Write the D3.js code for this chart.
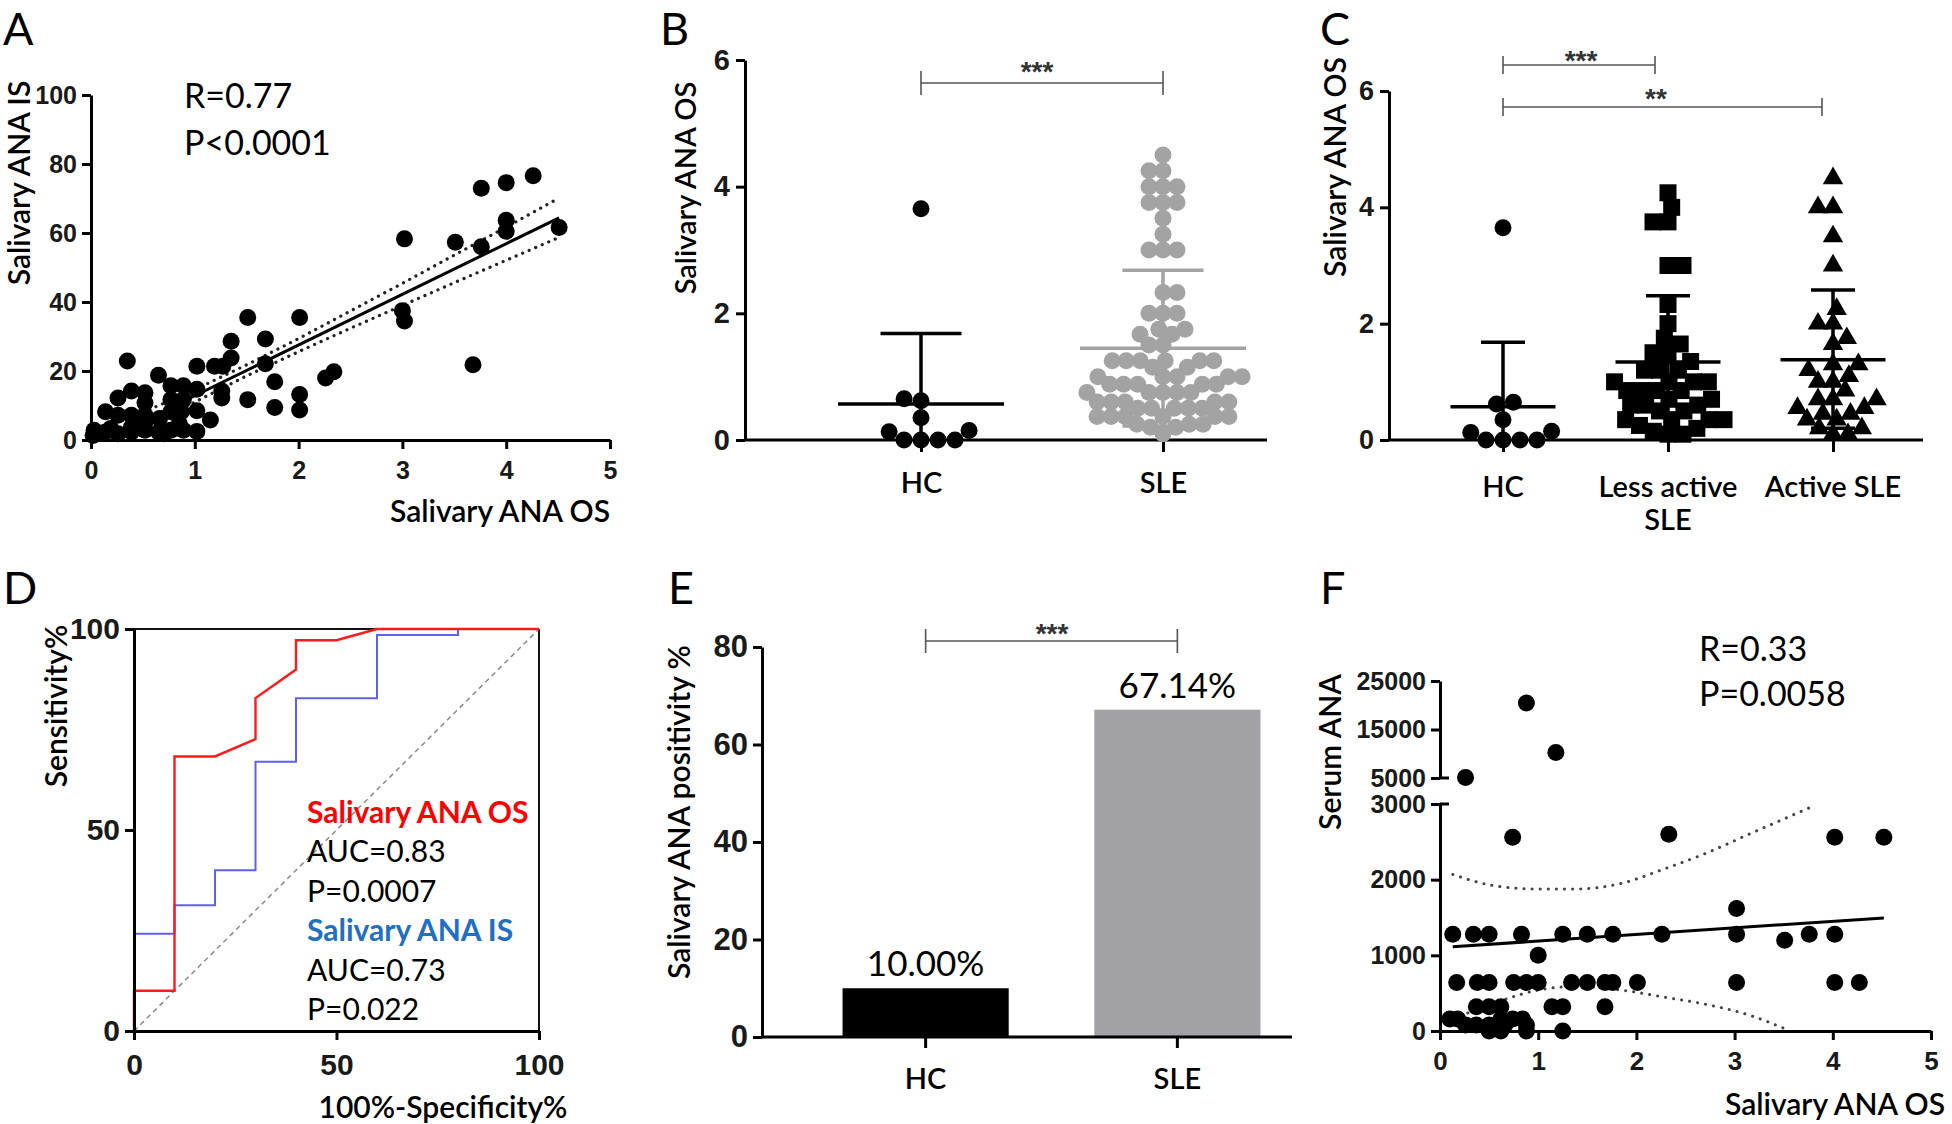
<!DOCTYPE html>
<html><head><meta charset="utf-8">
<script src="https://cdn.jsdelivr.net/npm/d3@7"></script>
<style>body{margin:0;background:#fff}svg{display:block}</style>
</head><body>
<svg id="fig" width="1952" height="1124"></svg>
<script>
// ================= DATA =================
// Panel A: Salivary ANA OS vs IS
const aOS = [3.76,4.0,4.26,4.0,4.0,4.51,3.76,3.51,3.02,3.0,
  3.02,3.68,1.51,2.01,1.68,1.35,1.35,1.68,1.27,1.19,
  1.02,0.35,0.65,2.26,2.34,1.77,1.26,1.26,1.51,2.01,
  2.01,1.77,1.02,1.02,1.15,1.02,0.89,0.77,0.89,0.77,
  0.77,0.87,0.89,0.77,0.52,0.39,0.52,0.26,0.14,0.26,
  0.39,0.52,0.66,0.03,0.14,0.26,0.39,0.52,0.65,0.70,
  0.02,0.52,0.39,0.85,0.19];
const aIS = [73,74.6,76.6,63.7,60.5,61.6,56,57.3,58.3,37.5,
  34.5,21.8,35.5,35.5,29.3,28.6,23.8,22.1,21.4,21.4,
  21.4,22.9,18.8,18,19.8,16.9,14.2,12.2,11.7,13.2,
  8.7,9.4,14.7,8.5,5.8,2.5,15.7,15.7,11.7,11.7,
  8.2,8.2,2.8,2.8,13.7,14.2,10.7,12.2,8.2,7.2,
  7.2,7.2,6.2,2.8,2.3,1.8,2.3,2.8,2.3,1.8,
  1.3,5.2,3.8,4.8,3.3];
const aFitX = [0.5, 4.51];
const aFitY = [5.5, 64.4];
const aBandX = [0.5, 1, 1.5, 2, 2.5, 3, 3.5, 4, 4.5];
const aBandUpper = [8.0, 14.6, 21.8, 29.4, 37.4, 45.4, 53.6, 61.7, 70.0];
const aBandLower = [3.0, 11.0, 18.6, 25.6, 32.4, 39.0, 45.6, 52.1, 58.6];
const aTicksX = [0,1,2,3,4,5];
const aTicksY = [0,20,40,60,80,100];
const aStats = ["R=0.77", "P<0.0001"];

// Panel B: HC vs SLE
const bCategories = ["HC", "SLE"];
const bHC = [0,0,0,0,0.13,0.15,0.35,0.62,0.65,3.65];
const bSLE = [4.5,4.25,4.25,4.0,4.0,4.0,3.75,3.75,3.75,3.5,3.25,3.0,3.0,3.0,
  2.33,2.33,2.0,2.0,2.0,1.75,1.67,1.67,1.75,1.5,1.5,
  1.25,1.25,1.25,1.25,1.25,1.25,1.15,1.15,
  1.0,1.0,1.0,1.0,1.0,0.88,0.88,0.88,0.88,0.88,
  0.75,0.75,0.75,0.75,0.75,0.6,0.6,0.6,0.6,0.6,
  0.5,0.5,0.5,0.5,0.5,0.37,0.37,0.37,0.37,0.37,0.37,
  0.25,0.25,0.25,0.2,0.2,0.1];
const bMean = [0.57, 1.45];
const bSDHigh = [1.68, 2.68];
const bSDLow = [0, 0.22];
const bTicksY = [0,2,4,6];

// Panel C: HC vs Less active SLE vs Active SLE
const cCategories = ["HC", "Less active SLE", "Active SLE"];
const cLabels = [["HC"], ["Less active", "SLE"], ["Active SLE"]];
const cHC = [0,0,0,0,0.13,0.15,0.35,0.62,0.65,3.65];
const cLess = [4.25,4.0,3.75,3.75,3.0,3.0,2.33,2.0,1.75,1.65,1.5,1.5,1.35,1.2,1.2,1.2,
  1.0,1.0,1.0,1.0,0.85,0.85,0.85,0.85,0.7,0.7,0.6,0.6,0.6,0.5,0.5,
  0.35,0.35,0.35,0.35,0.25,0.2,0.15,0.1,0.1];
const cActive = [4.5,4.0,4.0,3.5,3.0,2.25,2.0,2.0,1.75,1.65,1.3,1.3,1.2,1.1,1.0,1.0,
  0.85,0.7,0.7,0.7,0.55,0.55,0.45,0.45,0.35,0.35,0.2,0.2,0.1,0.1];
const cMean = [0.57, 1.34, 1.38];
const cSDHigh = [1.68, 2.48, 2.58];
const cSDLow = [0, 0.2, 0.2];
const cTicksY = [0,2,4,6];

// Panel D: ROC curves
const dFprOS = [0,0,10,10,20,30,30,40,40,50,60,100];
const dTprOS = [0,10,10,68.3,68.3,72.6,82.8,89.9,97.2,97.2,100,100];
const dFprIS = [0,0,10,10,20,20,30,30,40,40,60,60,80,80,100];
const dTprIS = [0,24.2,24.2,31.3,31.3,40,40,67,67,82.8,82.8,98.5,98.5,100,100];
const dTicks = [0,50,100];
const dLegend = [
  {t:"Salivary ANA OS", k:"os"}, {t:"AUC=0.83", k:"n"}, {t:"P=0.0007", k:"n"},
  {t:"Salivary ANA IS", k:"is"}, {t:"AUC=0.73", k:"n"}, {t:"P=0.022", k:"n"}];

// Panel E: positivity bars
const eCategories = ["HC", "SLE"];
const eValues = [10, 67.14];
const eLabels = ["10.00%", "67.14%"];
const eTicksY = [0,20,40,60,80];

// Panel F: serum ANA vs salivary ANA OS
const fOS = [0.88,1.18,0.26,0.74,2.33,4.02,4.52,3.02,
  0.13,0.34,0.5,0.83,1.25,1.5,1.76,2.26,3.02,3.76,4.02,
  3.51,1.0,
  0.17,0.38,0.5,0.75,0.88,1.0,1.34,1.5,1.68,1.76,2.01,3.02,4.02,4.27,
  0.37,0.5,0.62,1.14,1.25,1.68,
  0.1,0.18,0.62,0.74,0.84,
  0.26,0.37,0.5,0.66,0.88,
  0.5,0.62,0.88,1.25];
const fSerum = [20480,10240,5120,2560,2600,2560,2560,1620,
  1280,1280,1280,1280,1280,1280,1280,1280,1280,1280,1280,
  1200,1000,
  640,640,640,640,640,640,640,640,640,640,640,640,640,640,
  320,320,320,320,320,320,
  160,160,160,160,160,
  80,80,80,80,80,
  0,0,0,0];
const fFitX = [0.13, 4.52];
const fFitY = [1113, 1495];
const fUpperX = [0.13,0.53,0.97,1.41,1.84,2.28,2.72,3.16,3.81];
const fUpperY = [2069,1925,1878,1878,1949,2140,2355,2609,2977];
const fLowerX = [0.13,0.62,1.0,1.4,1.85,2.3,2.72,3.16,3.55];
const fLowerY = [157,400,540,590,540,444,349,205,10];
const fTicksX = [0,1,2,3,4,5];
const fTicksLow = [0,1000,2000,3000];
const fTicksHigh = [5000,15000,25000];
const fStats = ["R=0.33", "P=0.0058"];

// ================= DRAWING =================
const svg = d3.select('#fig');
const TICKF = '"Liberation Sans Narrow","Liberation Sans",Arial,sans-serif';
const TXTF = 'Lato,"Open Sans",sans-serif';
const FMT = d3.format('d');

function styleAxis(g, fs){
  g.select('.domain').attr('stroke','#000').attr('stroke-width',3);
  g.selectAll('.tick line').attr('stroke','#000').attr('stroke-width',3);
  g.selectAll('.tick text').attr('font-family',TICKF).attr('font-weight','bold')
    .attr('font-size',fs).attr('fill','#1a1a1a');
  return g;
}
function txt(x, y, s, o = {}) {
  const t = svg.append('text').attr('x', x).attr('y', y).text(s)
    .attr('font-family', o.family || TXTF).attr('font-size', o.size || 29)
    .attr('font-weight', o.weight || 400).attr('fill', o.fill || '#000')
    .attr('text-anchor', o.anchor || 'start');
  if (o.rotate) t.attr('transform', `rotate(-90,${x},${y})`);
  return t;
}
function swarm(values, yScale, minDist) {
  const order = values.map((v,i)=>i).sort((a,b)=>values[a]-values[b]);
  const placed = [], off = new Array(values.length);
  let flip = 1;
  for (const i of order) {
    const y = yScale(values[i]);
    const cands = [0];
    for (const p of placed) {
      const dy = Math.abs(p.y - y);
      if (dy < minDist) { const dx = Math.sqrt(minDist*minDist - dy*dy); cands.push(p.x + dx, p.x - dx); }
    }
    cands.sort((a,b)=> (Math.abs(a)-Math.abs(b)) || (flip*(b-a)));
    let chosen = 0;
    for (const c of cands) {
      if (placed.every(p => (p.x-c)*(p.x-c) + (p.y-y)*(p.y-y) >= minDist*minDist - 0.5)) { chosen = c; break; }
    }
    if (chosen !== 0) flip = -flip;
    placed.push({x: chosen, y}); off[i] = chosen;
  }
  return off;
}
function errBar(g, x, yS, mean, hi, lo, meanW, capW, color, sw) {
  const L = (x1,y1,x2,y2)=> g.append('line').attr('x1',x1).attr('y1',y1).attr('x2',x2).attr('y2',y2)
      .attr('stroke',color).attr('stroke-width',sw);
  L(x, yS(lo), x, yS(hi));
  L(x-capW/2, yS(hi), x+capW/2, yS(hi));
  if (lo > 0) L(x-capW/2, yS(lo), x+capW/2, yS(lo));
  L(x-meanW/2, yS(mean), x+meanW/2, yS(mean));
}
function bracket(x1, x2, y, h, label, lx, ly, fs) {
  const g = svg.append('g').attr('stroke','#555').attr('stroke-width',1.6);
  g.append('line').attr('x1',x1).attr('x2',x2).attr('y1',y).attr('y2',y);
  g.append('line').attr('x1',x1).attr('x2',x1).attr('y1',y-h).attr('y2',y+h);
  g.append('line').attr('x1',x2).attr('x2',x2).attr('y1',y-h).attr('y2',y+h);
  txt(lx, ly, label, {size: fs, anchor:'middle', fill:'#333', family:'"Liberation Sans",Arial,sans-serif', weight:700});
}

// Panel letters
[['A',3,45],['B',660,45],['C',1320,45],['D',3,604],['E',668,604],['F',1320,604]]
  .forEach(([l,x,y]) => txt(x, y, l, {size: 45}));

// ---------- Panel A ----------
{
  const x = d3.scaleLinear().domain([0,5]).range([91,610]);
  const y = d3.scaleLinear().domain([0,100]).range([440,95]);
  styleAxis(svg.append('g').attr('transform','translate(0,440)')
    .call(d3.axisBottom(x).tickValues(aTicksX).tickFormat(FMT).tickSize(9).tickSizeOuter(0).tickPadding(12)), 25);
  styleAxis(svg.append('g').attr('transform','translate(91,0)')
    .call(d3.axisLeft(y).tickValues(aTicksY).tickFormat(FMT).tickSize(9).tickSizeOuter(0).tickPadding(5)), 25);
  const band = (ys) => d3.line().x((d,i)=>x(aBandX[i])).y((d)=>y(d))(ys);
  [aBandUpper, aBandLower].forEach(b => svg.append('path').attr('d', band(b)).attr('fill','none')
     .attr('stroke','#222').attr('stroke-width',3.2).attr('stroke-linecap','round').attr('stroke-dasharray','0.1,7'));
  svg.append('g').selectAll('circle').data(aOS).join('circle')
    .attr('cx',(d)=>x(d)).attr('cy',(d,i)=>y(aIS[i])).attr('r',8.5).attr('fill','#000');
  svg.append('line').attr('x1',x(aFitX[0])).attr('y1',y(aFitY[0])).attr('x2',x(aFitX[1])).attr('y2',y(aFitY[1]))
    .attr('stroke','#000').attr('stroke-width',3);
  txt(184, 108, aStats[0], {size:34});
  txt(184, 155, aStats[1], {size:34});
  txt(30, 183, 'Salivary ANA IS', {size:30, weight:600, anchor:'middle', rotate:true});
  txt(610, 522, 'Salivary ANA OS', {size:30, weight:600, anchor:'end'});
}

// ---------- Panel B ----------
{
  const x = d3.scalePoint().domain(bCategories).range([921,1163]);
  const y = d3.scaleLinear().domain([0,6]).range([440,60]);
  styleAxis(svg.append('g').attr('transform','translate(745,0)')
    .call(d3.axisLeft(y).tickValues(bTicksY).tickFormat(FMT).tickSize(9).tickSizeOuter(0).tickPadding(6)), 29);
  svg.append('line').attr('x1',745).attr('x2',1267).attr('y1',440).attr('y2',440).attr('stroke','#000').attr('stroke-width',3);
  const xa = svg.append('g').attr('transform','translate(0,440)').call(d3.axisBottom(x).tickSize(12).tickPadding(20));
  xa.select('.domain').remove();
  xa.selectAll('.tick line').attr('stroke','#000').attr('stroke-width',3);
  xa.selectAll('.tick text').attr('font-family',TXTF).attr('font-weight',600).attr('font-size',29).attr('fill','#000');
  const groups = [bHC, bSLE], colors = ['#000', '#a3a3a3'], gaps = [17, 14];
  groups.forEach((vals, gi) => {
    const cx = x(bCategories[gi]);
    const off = swarm(vals, y, gaps[gi]);
    svg.append('g').selectAll('circle').data(vals).join('circle')
      .attr('cx',(d,i)=>cx+off[i]).attr('cy',(d)=>y(d)).attr('r',8.5).attr('fill',colors[gi]);
    errBar(svg.append('g'), cx, y, bMean[gi], bSDHigh[gi], bSDLow[gi], 166, 81, colors[gi], 3.5);
  });
  bracket(x('HC'), x('SLE'), 83, 12, '***', 1037, 81, 28);
  txt(696, 188, 'Salivary ANA OS', {size:29, weight:600, anchor:'middle', rotate:true});
}

// ---------- Panel C ----------
{
  const x = d3.scalePoint().domain(cCategories).range([1503,1833]);
  const y = d3.scaleLinear().domain([0,6]).range([440,91]);
  styleAxis(svg.append('g').attr('transform','translate(1389,0)')
    .call(d3.axisLeft(y).tickValues(cTicksY).tickFormat(FMT).tickSize(9).tickSizeOuter(0).tickPadding(6)), 27);
  svg.append('line').attr('x1',1389).attr('x2',1923).attr('y1',440).attr('y2',440).attr('stroke','#000').attr('stroke-width',3);
  const xa = svg.append('g').attr('transform','translate(0,440)').call(d3.axisBottom(x).tickSize(12).tickFormat(''));
  xa.select('.domain').remove();
  xa.selectAll('.tick line').attr('stroke','#000').attr('stroke-width',3);
  cLabels.forEach((lines, i) => lines.forEach((l, j) =>
    txt(x(cCategories[i]), 497 + j*33, l, {size:29, weight:600, anchor:'middle'})));
  const groups = [cHC, cLess, cActive];
  const shapes = [d3.symbolCircle, d3.symbolSquare, d3.symbolTriangle];
  const sizes = [Math.PI*8.5*8.5, 17*17, 180];
  groups.forEach((vals, gi) => {
    const cx = x(cCategories[gi]);
    const off = swarm(vals, y, gi === 0 ? 17 : 15);
    svg.append('g').selectAll('path').data(vals).join('path')
      .attr('d', d3.symbol().type(shapes[gi]).size(sizes[gi]))
      .attr('transform',(d,i)=>`translate(${cx+off[i]},${y(d)})`).attr('fill','#000');
    errBar(svg.append('g'), cx, y, cMean[gi], cSDHigh[gi], cSDLow[gi], 105, 44, '#000', 3.5);
  });
  bracket(x('HC'), 1655, 65, 9, '***', 1581, 70, 28);
  bracket(x('HC'), 1822, 107, 9, '**', 1656, 108, 28);
  txt(1346, 167, 'Salivary ANA OS', {size:30, weight:600, anchor:'middle', rotate:true});
}

// ---------- Panel D ----------
{
  const x = d3.scaleLinear().domain([0,100]).range([134,539]);
  const y = d3.scaleLinear().domain([0,100]).range([1031,629]);
  svg.append('line').attr('x1',134).attr('x2',539).attr('y1',629).attr('y2',629).attr('stroke','#111').attr('stroke-width',2);
  svg.append('line').attr('x1',539).attr('x2',539).attr('y1',629).attr('y2',1031).attr('stroke','#111').attr('stroke-width',2);
  svg.append('line').attr('x1',x(0)).attr('y1',y(0)).attr('x2',x(100)).attr('y2',y(100))
    .attr('stroke','#8a8a8a').attr('stroke-width',1.5).attr('stroke-dasharray','5,4');
  const line = (xs, ys) => d3.line().x((d,i)=>x(xs[i])).y((d)=>y(d))(ys);
  svg.append('path').attr('d', line(dFprIS, dTprIS)).attr('fill','none').attr('stroke','#6060f0').attr('stroke-width',2);
  svg.append('path').attr('d', line(dFprOS, dTprOS)).attr('fill','none').attr('stroke','#ff1a1a').attr('stroke-width',2.4);
  styleAxis(svg.append('g').attr('transform','translate(0,1031)')
    .call(d3.axisBottom(x).tickValues(dTicks).tickFormat(FMT).tickSize(9).tickSizeOuter(0).tickPadding(14)), 30);
  styleAxis(svg.append('g').attr('transform','translate(134,0)')
    .call(d3.axisLeft(y).tickValues(dTicks).tickFormat(FMT).tickSize(9).tickSizeOuter(0).tickPadding(5)), 30);
  dLegend.forEach((d, i) => {
    const col = d.k === 'os' ? '#ff0000' : d.k === 'is' ? '#1f6fc6' : '#000';
    txt(307, 823 + i*39.4, d.t, {size:30, weight: d.k === 'n' ? 400 : 700, fill: col});
  });
  txt(67, 706, 'Sensitivity%', {size:30, weight:600, anchor:'middle', rotate:true});
  txt(443, 1118, '100%-Specificity%', {size:30, weight:600, anchor:'middle'});
}

// ---------- Panel E ----------
{
  const x = d3.scaleBand().domain(eCategories).range([762,1341]).paddingInner(0.34).paddingOuter(0.32);
  const y = d3.scaleLinear().domain([0,80]).range([1037,647]);
  svg.append('g').selectAll('rect').data(eValues).join('rect')
    .attr('x',(d,i)=>x(eCategories[i])).attr('width',x.bandwidth())
    .attr('y',(d)=>y(d)).attr('height',(d)=>y(0)-y(d))
    .attr('fill',(d,i)=> i===0 ? '#000' : '#a2a2a6');
  styleAxis(svg.append('g').attr('transform','translate(762,0)')
    .call(d3.axisLeft(y).tickValues(eTicksY).tickFormat(FMT).tickSize(9).tickSizeOuter(0).tickPadding(5)), 31);
  svg.append('line').attr('x1',762).attr('x2',1292).attr('y1',1037).attr('y2',1037).attr('stroke','#000').attr('stroke-width',3);
  const xa = svg.append('g').attr('transform','translate(0,1037)').call(d3.axisBottom(x).tickSize(11).tickPadding(20));
  xa.select('.domain').remove();
  xa.selectAll('.tick line').attr('stroke','#000').attr('stroke-width',3);
  xa.selectAll('.tick text').attr('font-family',TXTF).attr('font-weight',600).attr('font-size',29).attr('fill','#000');
  eValues.forEach((v, i) => txt(x(eCategories[i]) + x.bandwidth()/2, y(v) - 12, eLabels[i], {size:35, anchor:'middle'}));
  bracket(x('HC') + x.bandwidth()/2, x('SLE') + x.bandwidth()/2, 641, 12, '***', 1052, 643, 28);
  txt(690, 812, 'Salivary ANA positivity %', {size:30, weight:600, anchor:'middle', rotate:true});
}

// ---------- Panel F ----------
{
  const x = d3.scaleLinear().domain([0,5]).range([1440,1931]);
  const yLo = d3.scaleLinear().domain([0,3000]).range([1031,804]);
  const yHi = d3.scaleLinear().domain([5000,25000]).range([778,681]);
  const yv = (v) => v > 4000 ? yHi(v) : yLo(v);
  styleAxis(svg.append('g').attr('transform','translate(0,1031)')
    .call(d3.axisBottom(x).tickValues(fTicksX).tickFormat(FMT).tickSize(9).tickSizeOuter(0).tickPadding(12)), 26);
  styleAxis(svg.append('g').attr('transform','translate(1440,0)')
    .call(d3.axisLeft(yLo).tickValues(fTicksLow).tickFormat(FMT).tickSize(9).tickSizeOuter(0).tickPadding(5)), 25);
  styleAxis(svg.append('g').attr('transform','translate(1440,0)')
    .call(d3.axisLeft(yHi).tickValues(fTicksHigh).tickFormat(FMT).tickSize(9).tickSizeOuter(0).tickPadding(5)), 25);
  // axis break caps
  [yLo(3000), yHi(5000)].forEach((yy) => svg.append('line').attr('x1',1440).attr('x2',1449)
     .attr('y1',yy).attr('y2',yy).attr('stroke','#000').attr('stroke-width',3));
  const dotted = (xs, ys) => d3.line().x((d,i)=>x(xs[i])).y((d)=>yLo(d)).curve(d3.curveMonotoneX)(ys);
  [[fUpperX,fUpperY],[fLowerX,fLowerY]].forEach(([xs,ys]) => svg.append('path').attr('d', dotted(xs,ys))
     .attr('fill','none').attr('stroke','#444').attr('stroke-width',3).attr('stroke-linecap','round').attr('stroke-dasharray','0.1,8'));
  svg.append('g').selectAll('circle').data(fOS).join('circle')
    .attr('cx',(d)=>x(d)).attr('cy',(d,i)=>yv(fSerum[i])).attr('r',8.5).attr('fill','#000');
  svg.append('line').attr('x1',x(fFitX[0])).attr('y1',yLo(fFitY[0])).attr('x2',x(fFitX[1])).attr('y2',yLo(fFitY[1]))
    .attr('stroke','#000').attr('stroke-width',3);
  txt(1699, 661, fStats[0], {size:34});
  txt(1699, 706, fStats[1], {size:34});
  txt(1341, 752, 'Serum ANA', {size:30, weight:600, anchor:'middle', rotate:true});
  txt(1945, 1115, 'Salivary ANA OS', {size:30, weight:600, anchor:'end'});
}
</script>
</body></html>
